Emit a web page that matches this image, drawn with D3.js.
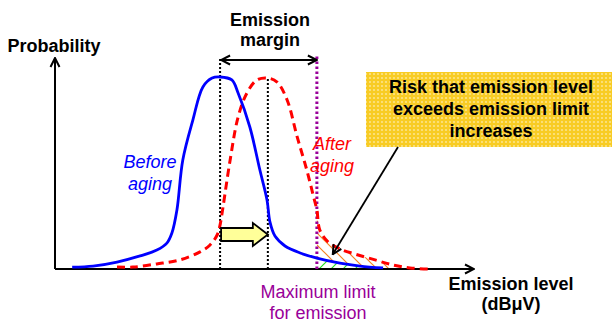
<!DOCTYPE html>
<html><head><meta charset="utf-8">
<script src="https://cdn.jsdelivr.net/npm/d3@7"></script>
<style>html,body{margin:0;padding:0;background:#fff;}svg{display:block;font-family:"Liberation Sans",Arial,sans-serif;}</style>
</head><body><svg id="c" width="613" height="319"></svg>
<script>
// ---- data (emission level in arbitrary units 0-100, probability 0-1) ----
const beforeX = [4.1, 9.1, 14.8, 20.3, 24.3, 26.7, 27.9, 29.1, 30.5, 32.9, 35.3, 37.5, 39.4, 42.2, 43.7, 46.5, 48.9, 50.6, 51.3, 52.5, 54.9, 58.5, 62.5, 68.0, 72.8, 78.3];
const beforeY = [0.009, 0.014, 0.033, 0.062, 0.090, 0.123, 0.171, 0.280, 0.517, 0.706, 0.863, 0.905, 0.910, 0.896, 0.834, 0.673, 0.469, 0.327, 0.223, 0.156, 0.109, 0.076, 0.052, 0.028, 0.014, 0.005];
const afterX = [14.8, 18.6, 24.3, 29.8, 34.6, 37.0, 38.7, 39.4, 40.1, 41.8, 43.7, 45.8, 48.2, 50.8, 53.0, 55.4, 57.8, 60.1, 61.6, 62.5, 63.2, 65.2, 68.0, 71.6, 76.4, 80.7, 84.7, 89.5];
const afterY = [0.009, 0.009, 0.024, 0.043, 0.081, 0.114, 0.161, 0.209, 0.294, 0.517, 0.720, 0.834, 0.896, 0.905, 0.886, 0.801, 0.626, 0.469, 0.351, 0.280, 0.185, 0.128, 0.095, 0.071, 0.043, 0.019, 0.005, 0.000];
const peakBefore = 39.4;
const peakAfter = 50.8;
const emissionLimit = 62.5;
const hatchEnd = 82;
const titleLines = ["Emission", "margin"];
const yAxisLabel = "Probability";
const xAxisLabel = ["Emission level", "(dBμV)"];
const beforeLabel = ["Before", "aging"];
const afterLabel = ["After", "aging"];
const limitLabel = ["Maximum limit", "for emission"];
const riskLabel = ["Risk that emission level", "exceeds emission limit", "increases"];

const svg = d3.select("#c");
const x = d3.scaleLinear().domain([0, 100]).range([55, 474]);
const y = d3.scaleLinear().domain([0, 1]).range([269, 58]);

const before = beforeX.map((v, i) => ({x: v, y: beforeY[i]}));
const after = afterX.map((v, i) => ({x: v, y: afterY[i]}));

const defs = svg.append("defs");
// hatch patterns
const pO = defs.append("pattern").attr("id", "hO").attr("patternUnits", "userSpaceOnUse").attr("width", 12).attr("height", 12);
pO.append("path").attr("d", "M-3,-3 L15,15 M-15,-3 L3,15 M9,-3 L27,15").attr("stroke", "#F58220").attr("stroke-width", 1.2);
const pG = defs.append("pattern").attr("id", "hG").attr("patternUnits", "userSpaceOnUse").attr("width", 12).attr("height", 12);
pG.append("path").attr("d", "M-3,15 L15,-3 M-15,15 L3,-3 M9,15 L27,-3").attr("stroke", "#22DD22").attr("stroke-width", 1.2);
// box pattern
const pB = defs.append("pattern").attr("id", "bx").attr("patternUnits", "userSpaceOnUse").attr("width", 4).attr("height", 4);
pB.append("rect").attr("width", 4).attr("height", 4).attr("fill", "#F8CC24");
pB.append("circle").attr("cx", 2).attr("cy", 2).attr("r", 1.1).attr("fill", "#FCE48A");
// clip
defs.append("clipPath").attr("id", "cl").append("rect")
  .attr("x", x(emissionLimit)).attr("y", 0).attr("width", x(hatchEnd) - x(emissionLimit)).attr("height", y(0));
// markers
defs.append("marker").attr("id", "ar").attr("viewBox", "0 0 12 12").attr("refX", 11).attr("refY", 6)
  .attr("markerWidth", 12).attr("markerHeight", 12).attr("markerUnits", "userSpaceOnUse").attr("orient", "auto-start-reverse")
  .append("path").attr("d", "M2,1.5 L11,6 L2,10.5").attr("fill", "none").attr("stroke", "#000").attr("stroke-width", 2);

const curve = d3.curveCatmullRom.alpha(0.5);
const area = d3.area().x(d => x(d.x)).y0(y(0)).y1(d => y(d.y)).curve(curve);
const line = d3.line().x(d => x(d.x)).y(d => y(d.y)).curve(curve);

const hatch = svg.append("g").attr("clip-path", "url(#cl)");
hatch.append("path").attr("d", area(after)).attr("fill", "url(#hO)");
hatch.append("path").attr("d", area(before)).attr("fill", "#fff");
hatch.append("path").attr("d", area(before)).attr("fill", "url(#hG)");

// axes
svg.append("line").attr("x1", x(0)).attr("x2", x(0)).attr("y1", y(0)).attr("y2", y(1))
  .attr("stroke", "#000").attr("stroke-width", 2).attr("marker-end", "url(#ar)");
svg.append("line").attr("x1", x(0)).attr("x2", x(100)).attr("y1", y(0)).attr("y2", y(0))
  .attr("stroke", "#000").attr("stroke-width", 2).attr("marker-end", "url(#ar)");

// dotted reference lines
svg.append("line").attr("x1", x(peakBefore)).attr("x2", x(peakBefore)).attr("y1", y(0)).attr("y2", 57)
  .attr("stroke", "#000").attr("stroke-width", 2).attr("stroke-dasharray", "2,2");
svg.append("line").attr("x1", x(peakAfter)).attr("x2", x(peakAfter)).attr("y1", y(0)).attr("y2", y(d3.max(afterY)))
  .attr("stroke", "#000").attr("stroke-width", 2).attr("stroke-dasharray", "2,2");
svg.append("line").attr("x1", x(emissionLimit)).attr("x2", x(emissionLimit)).attr("y1", y(0)).attr("y2", 55)
  .attr("stroke", "#990099").attr("stroke-width", 3).attr("stroke-dasharray", "2.5,2.5");

// curves
svg.append("path").attr("d", line(after)).attr("fill", "none").attr("stroke", "#FF0000")
  .attr("stroke-width", 3).attr("stroke-dasharray", "8,5");
svg.append("path").attr("d", line(before)).attr("fill", "none").attr("stroke", "#0000FF").attr("stroke-width", 2.8);

// margin double arrow
svg.append("line").attr("x1", x(peakBefore) + 1).attr("x2", x(emissionLimit)).attr("y1", 60).attr("y2", 60)
  .attr("stroke", "#000").attr("stroke-width", 2)
  .attr("marker-start", "url(#ar)").attr("marker-end", "url(#ar)");

// yellow block arrow
{
  const x0 = x(peakBefore) + 1, x1 = x(peakAfter), yc = 234.5, xs = x1 - 15;
  svg.append("path").attr("d", `M${x0},${yc - 6.5} L${xs},${yc - 6.5} L${xs},${yc - 11.5} L${x1},${yc} L${xs},${yc + 11.5} L${xs},${yc + 6.5} L${x0},${yc + 6.5} Z`)
    .attr("fill", "#FFFF99").attr("stroke", "#000").attr("stroke-width", 1.8);
}

// risk box
svg.append("rect").attr("x", 366).attr("y", 72).attr("width", 246).attr("height", 75).attr("fill", "url(#bx)");
svg.append("line").attr("x1", 398).attr("y1", 147).attr("x2", x(66.3)).attr("y2", y(0.07))
  .attr("stroke", "#000").attr("stroke-width", 1.8).attr("marker-end", "url(#ar)");
riskLabel.forEach((t, i) => svg.append("text").attr("x", 491).attr("y", 93 + i * 22)
  .attr("text-anchor", "middle").attr("font-size", 18).attr("font-weight", "bold").text(t));

// labels
svg.append("text").attr("x", 54).attr("y", 52).attr("text-anchor", "middle").attr("font-size", 18).attr("font-weight", "bold").text(yAxisLabel);
titleLines.forEach((t, i) => svg.append("text").attr("x", 270).attr("y", 26 + i * 20)
  .attr("text-anchor", "middle").attr("font-size", 18).attr("font-weight", "bold").text(t));
xAxisLabel.forEach((t, i) => svg.append("text").attr("x", 511).attr("y", 290 + i * 20)
  .attr("text-anchor", "middle").attr("font-size", 18).attr("font-weight", "bold").text(t));
beforeLabel.forEach((t, i) => svg.append("text").attr("x", 150).attr("y", 168 + i * 22)
  .attr("text-anchor", "middle").attr("font-size", 18).attr("font-style", "italic").attr("fill", "#0000FF").text(t));
afterLabel.forEach((t, i) => svg.append("text").attr("x", 332).attr("y", 150 + i * 22)
  .attr("text-anchor", "middle").attr("font-size", 18).attr("font-style", "italic").attr("fill", "#FF0000").text(t));
limitLabel.forEach((t, i) => svg.append("text").attr("x", 318).attr("y", 298 + i * 21)
  .attr("text-anchor", "middle").attr("font-size", 18).attr("fill", "#990099").text(t));
</script></body></html>
